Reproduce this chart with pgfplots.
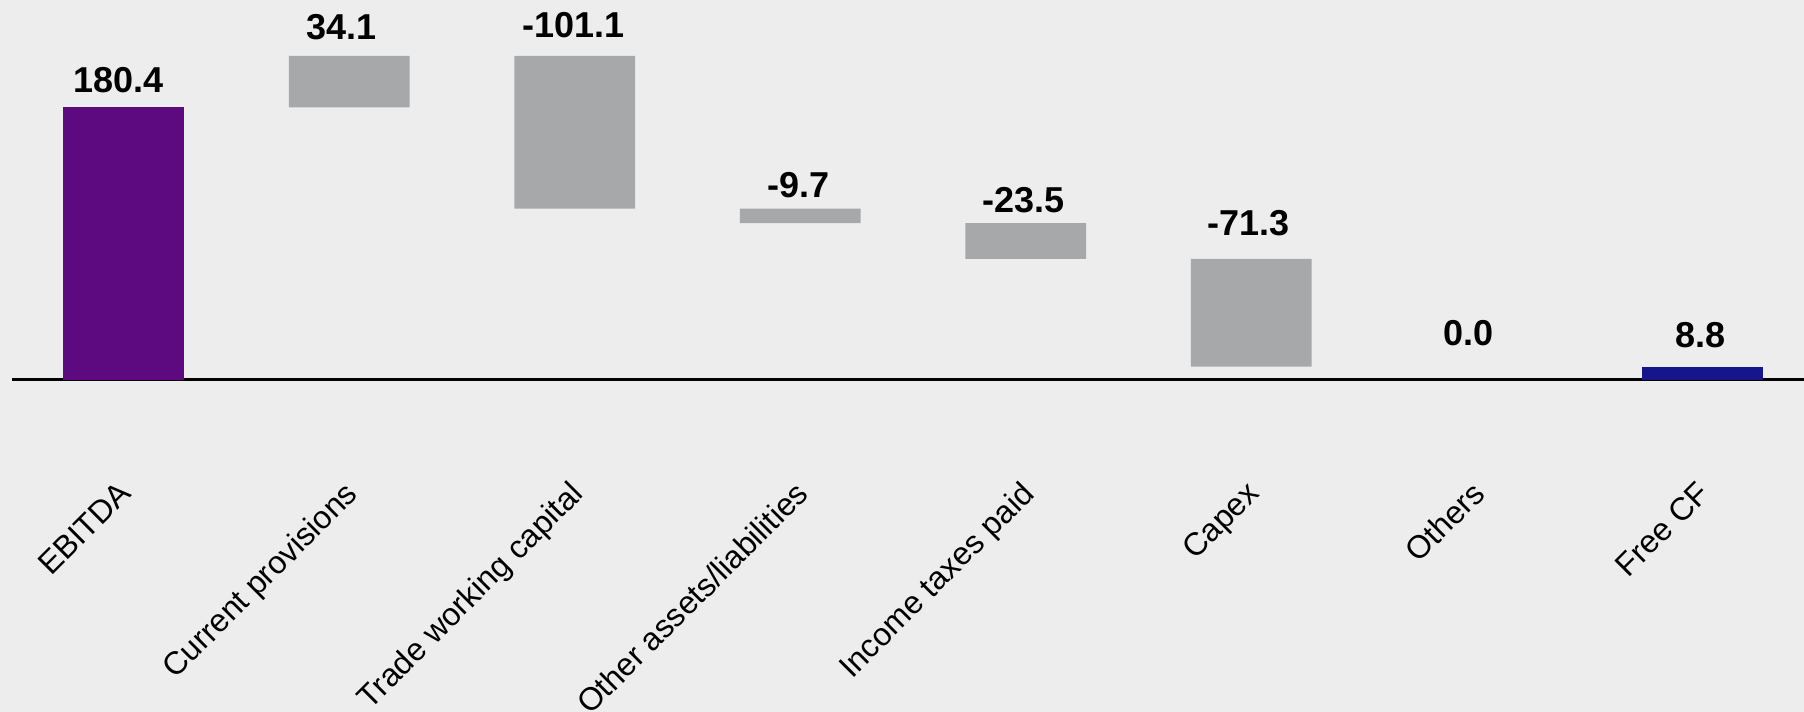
\documentclass[border=0pt]{standalone}
\usepackage{fontspec}
\setmainfont{Liberation Sans}
\usepackage{pgfplots}
\pgfplotsset{compat=1.18}
\definecolor{bg}{HTML}{EDEDED}
\definecolor{purp}{HTML}{5D0A80}
\definecolor{barGray}{HTML}{A7A8AA}
\definecolor{navy}{HTML}{16168A}
\tikzset{vlab/.style={anchor=base, inner sep=0pt, font=\fontsize{9}{11}\selectfont\bfseries}}
\begin{document}
\begin{tikzpicture}
\fill[bg] (0,0) rectangle (451pt,178pt);
\begin{axis}[
  at={(0pt,57pt)}, anchor=south west,
  scale only axis, width=451pt, height=121pt,
  xmin=-0.5486, xmax=7.4515, ymin=-68.81, ymax=251.42,
  ybar stacked, bar width=30.2pt,
  axis line style={draw=none}, major tick length=0pt,
  ytick=\empty, xtick={0,...,7},
  xticklabels={EBITDA,Current provisions,Trade working capital,Other assets/liabilities,Income taxes paid,Capex,Others,Free CF},
  xticklabel style={font=\fontsize{8}{9.5}\selectfont, xshift=-1.6pt, yshift=1.4pt, rotate=45, anchor=north east, inner sep=0pt},
  clip=false]
\addplot[draw=none, fill=none] coordinates {(0,0) (1,180.4) (2,113.4) (3,103.7) (4,80.2) (5,8.9) (6,8.9) (7,0)};
\addplot[draw=none, fill=purp] coordinates {(0,180.4) (1,0) (2,0) (3,0) (4,0) (5,0) (6,0) (7,0)};
\addplot[draw=none, fill=barGray] coordinates {(0,0) (1,34.1) (2,101.1) (3,9.7) (4,23.5) (5,71.3) (6,0) (7,0)};
\addplot[draw=none, fill=navy] coordinates {(0,0) (1,0) (2,0) (3,0) (4,0) (5,0) (6,0) (7,8.8)};
\draw[line width=0.75pt, black] (axis cs:-0.4976,0) -- (axis cs:7.4515,0);
\node[vlab, xshift=-1.3pt] at (axis cs:0,190.5) {180.4};
\node[vlab, xshift=-2pt] at (axis cs:1,225) {34.1};
\node[vlab, xshift=-0.3pt] at (axis cs:2,226.5) {-101.1};
\node[vlab, xshift=-0.5pt] at (axis cs:3,121) {-9.7};
\node[vlab, xshift=-0.5pt] at (axis cs:4,111) {-23.5};
\node[vlab, xshift=-0.7pt] at (axis cs:5,95.3) {-71.3};
\node[vlab, xshift=-2pt] at (axis cs:6,22.5) {0.0};
\node[vlab, xshift=-0.5pt] at (axis cs:7,21.8) {8.8};
\end{axis}
\pgfresetboundingbox
\path[use as bounding box] (0,0) rectangle (451pt,178pt);
\end{tikzpicture}
\end{document}
